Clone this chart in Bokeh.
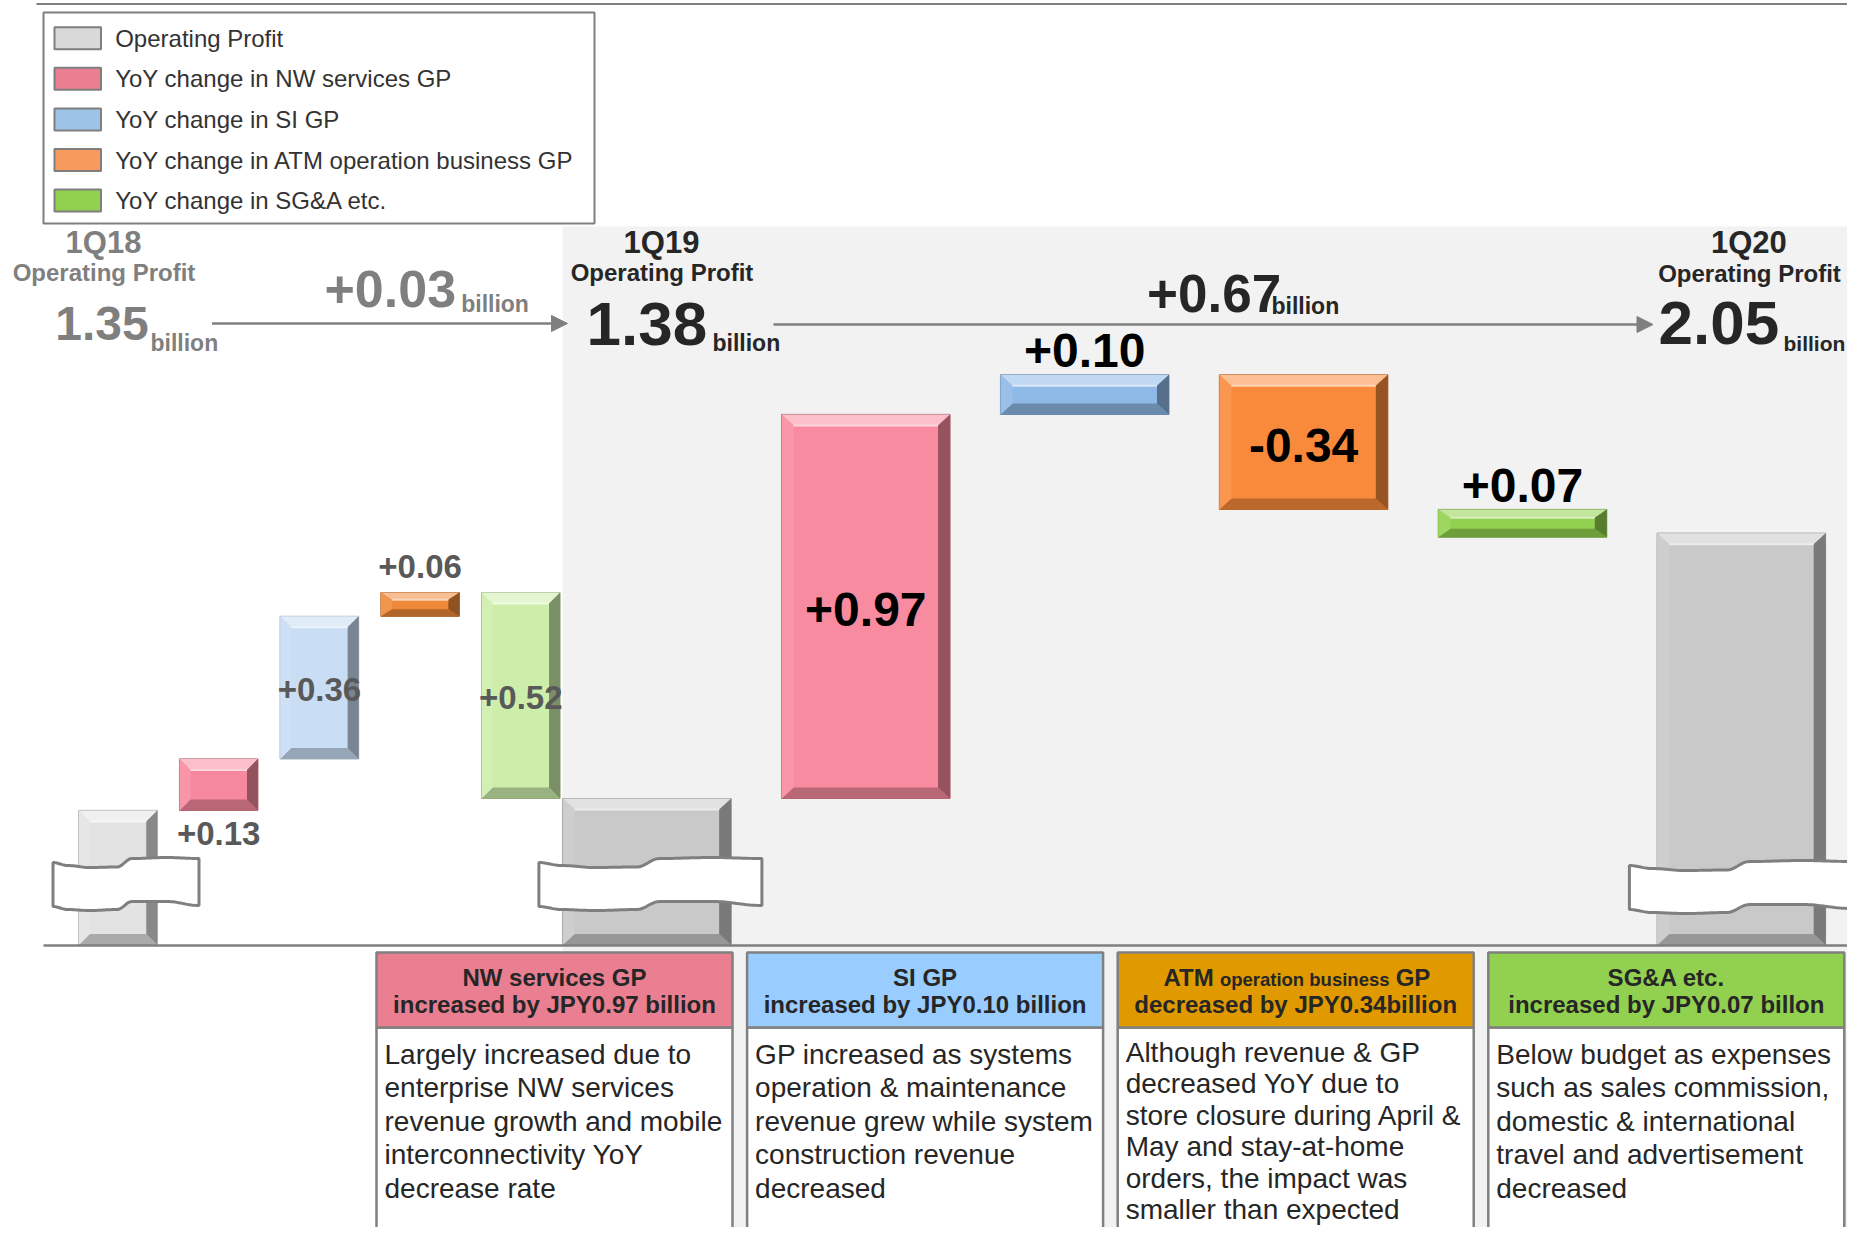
import numpy as np
from bokeh.plotting import figure
from bokeh.models import Range1d, Arrow, NormalHead
from bokeh.core.properties import value
from bokeh.embed import file_html
from bokeh.resources import INLINE

# ---------------- data ----------------
periods = ["1Q18", "1Q19", "1Q20"]
operating_profit = [1.35, 1.38, 2.05]
period_change = ["+0.03", "+0.67"]

steps_a = [0.13, 0.36, 0.06, -0.52]          # 1Q18 -> 1Q19
labels_a = ["+0.13", "+0.36", "+0.06", "+0.52"]
steps_b = [0.97, 0.10, -0.34, -0.07]         # 1Q19 -> 1Q20
labels_b = ["+0.97", "+0.10", "-0.34", "+0.07"]

legend_labels = ["Operating Profit", "YoY change in NW services GP", "YoY change in SI GP",
                 "YoY change in ATM operation business GP", "YoY change in SG&A etc."]

box_line1 = ["NW services GP", "SI GP", None, "SG&A etc."]
box_line2 = ["increased by JPY0.97 billion", "increased by JPY0.10 billion",
             "decreased by JPY0.34billion", "increased by JPY0.07 billon"]
box_body = [
    ["Largely increased due to", "enterprise NW services", "revenue growth and mobile",
     "interconnectivity YoY", "decrease rate"],
    ["GP increased as systems", "operation & maintenance", "revenue grew while system",
     "construction revenue", "decreased"],
    ["Although revenue & GP", "decreased YoY due to", "store closure during April &",
     "May and stay-at-home", "orders, the impact was", "smaller than expected"],
    ["Below budget as expenses", "such as sales commission,", "domestic & international",
     "travel and advertisement", "decreased"],
]

# ---------------- styles ----------------
FONT = "Liberation Sans"
AXIS_FLOOR = 1.01          # truncated value axis floor (broken axis)
PXB = 396.0                # pixels per billion
ANCHOR_V, ANCHOR_PX = 1.38, 798.0

left_total_color = "#e3e3e3"
left_colors = ["#f7899e", "#c9ddf4", "#ef8838", "#cdeeab"]
right_total_color = "#c9c9c9"
right_colors = ["#f88b9f", "#8fb9e7", "#fa8a3b", "#92d14f"]
legend_colors = ["#d9d9d9", "#e97f91", "#9dc3e6", "#f79a5e", "#92d050"]
header_colors = ["#e97f91", "#99ccff", "#e09a00", "#92d050"]
label_pos_a = ["below", "inside", "above", "inside"]
label_pos_b = ["inside", "above", "inside", "above"]

W, H = 1847, 1227
p = figure(width=W, height=H, x_range=Range1d(0, W), y_range=Range1d(H, 0),
           output_backend="svg", toolbar_location=None, min_border=0,
           x_axis_location=None, y_axis_location=None)
p.grid.visible = False
p.outline_line_color = None
p.background_fill_color = "white"
p.border_fill_color = "white"
v_bottom = ANCHOR_V - (H - ANCHOR_PX) / PXB
v_top = ANCHOR_V + ANCHOR_PX / PXB
p.extra_y_ranges = {"v": Range1d(v_bottom, v_top)}


def mix(c, t, target):
    c = c.lstrip("#")
    r, g, b = int(c[0:2], 16), int(c[2:4], 16), int(c[4:6], 16)
    tr = 255 if target == "w" else 0
    r, g, b = [int(round(x + (tr - x) * t)) for x in (r, g, b)]
    return "#%02x%02x%02x" % (r, g, b)


def txt(x, y, s, size, color, bold=False, align="left", baseline="alphabetic",
        yr="default", yoff=0):
    if baseline == "alphabetic":
        # place by cap-centre: more reliable across renderers
        baseline = "middle"
        yoff = yoff - 0.36 * size
    p.text(x=[x], y=[y], text=[s], text_font=value(FONT), text_font_size=f"{size}px",
           text_font_style="bold" if bold else "normal", text_color=color,
           text_align=align, text_baseline=baseline, y_range_name=yr, y_offset=yoff)


def bevel_bar(xc, w, v0, v1, color):
    x0, x1 = xc - w / 2, xc + w / 2
    hpx = (v1 - v0) * PXB
    bpx = min(11.0, 0.3 * hpx)
    bx = min(12.0, 0.14 * w)
    bv = bpx / PXB
    p.quad(left=[x0], right=[x1], bottom=[v0], top=[v1], fill_color=color,
           line_color=mix(color, 0.3, "k"), line_width=1, y_range_name="v")
    xs = [[x0, x1, x1 - bx, x0 + bx], [x0, x1, x1 - bx, x0 + bx],
          [x0, x0, x0 + bx, x0 + bx], [x1, x1, x1 - bx, x1 - bx]]
    ys = [[v1, v1, v1 - bv, v1 - bv], [v0, v0, v0 + bv, v0 + bv],
          [v0, v1, v1 - bv, v0 + bv], [v0, v1, v1 - bv, v0 + bv]]
    cols = [mix(color, 0.45, "w"), mix(color, 0.25, "k"), mix(color, 0.1, "w"),
            mix(color, 0.4, "k")]
    p.patches(xs=xs, ys=ys, fill_color=cols, line_color=None, y_range_name="v")
    p.segment(x0=[x0 + bx], x1=[x1 - bx], y0=[v1 - bv], y1=[v1 - bv],
              line_color=mix(color, 0.65, "w"), line_width=2, y_range_name="v")


def cos_interp(ts, ct, cv):
    out = []
    for t in ts:
        for k in range(len(ct) - 1):
            if ct[k] <= t <= ct[k + 1]:
                u = (t - ct[k]) / (ct[k + 1] - ct[k])
                mu = (1 - np.cos(np.pi * u)) / 2
                out.append(cv[k] * (1 - mu) + cv[k + 1] * mu)
                break
    return np.array(out)


def break_mark(x0, w, yt):
    ts = np.linspace(0, 1, 80)
    ct = [0, 0.1, 0.25, 0.44, 0.54, 0.78, 1.0]
    top = cos_interp(ts, ct, [4, 7, 9, 8.5, 0, -1, 0])
    bot = cos_interp(ts, ct, [48, 51, 52, 51, 43, 43, 47])
    xs = list(x0 + ts * w) + list((x0 + ts * w)[::-1])
    ys = list(yt + top) + list((yt + bot)[::-1])
    p.patch(xs, ys, fill_color="white", line_color="#7f7f7f", line_width=3)


# ---------------- background ----------------
p.quad(left=[562], right=[W + 20], top=[226], bottom=[H + 20], fill_color="#f2f2f2", line_color=None)
p.segment(x0=[36], x1=[W + 20], y0=[3.6], y1=[3.6], line_color="#7f7f7f", line_width=2)

# legend
p.quad(left=[43], right=[594], top=[12], bottom=[223], fill_color="white",
       line_color="#7f7f7f", line_width=2)
for i, (lab, col) in enumerate(zip(legend_labels, legend_colors)):
    cy = 37.7 + i * 40.6
    p.quad(left=[54], right=[100.5], top=[cy - 11], bottom=[cy + 11], fill_color=col,
           line_color="#7f7f7f", line_width=2)
    txt(114.7, cy, lab, 24, "#333333", baseline="middle")

# ---------------- waterfall ----------------
LX0, LSTEP, LW = 117.5, 100.7, 78.5
RX0, RSTEP, RW = 646.4, 218.9, 168.5

bevel_bar(LX0, LW, AXIS_FLOOR, operating_profit[0], left_total_color)
cur = operating_profit[0]
for i, d in enumerate(steps_a):
    xc = LX0 + (i + 1) * LSTEP
    v0, v1 = min(cur, cur + d), max(cur, cur + d)
    bevel_bar(xc, LW, v0, v1, left_colors[i])
    pos = label_pos_a[i]
    if pos == "inside":
        txt(xc, (v0 + v1) / 2, labels_a[i], 33, "#595959", True, "center", "middle", "v", 2)
    elif pos == "above":
        txt(xc, v1, labels_a[i], 33, "#595959", True, "center", "alphabetic", "v", -14)
    else:
        txt(xc, v0, labels_a[i], 33, "#595959", True, "center", "alphabetic", "v", 35)
    cur += d

bevel_bar(RX0, RW, AXIS_FLOOR, operating_profit[1], right_total_color)
cur = operating_profit[1]
for j, d in enumerate(steps_b):
    xc = RX0 + (j + 1) * RSTEP
    v0, v1 = min(cur, cur + d), max(cur, cur + d)
    bevel_bar(xc, RW, v0, v1, right_colors[j])
    pos = label_pos_b[j]
    if pos == "inside":
        txt(xc, (v0 + v1) / 2, labels_b[j], 48, "#000000", True, "center", "middle", "v", 3)
    else:
        txt(xc, v1, labels_b[j], 48, "#000000", True, "center", "alphabetic", "v", -7)
    cur += d

bevel_bar(RX0 + 5 * RSTEP, RW, AXIS_FLOOR, operating_profit[2], right_total_color)

# axis-break marks
break_mark(LX0 - 65, 146, 858)
break_mark(RX0 - 108, 223, 858)
break_mark(RX0 + 5 * RSTEP - 112, 222, 861)

# baseline
p.segment(x0=[43], x1=[W + 20], y0=[945], y1=[945], line_color="#7f7f7f", line_width=2.5)

# ---------------- period headers ----------------
gray = "#7f7f7f"
dark = "#262626"
txt(103, 253, periods[0], 31, gray, True, "center")
txt(103.5, 281, "Operating Profit", 24, gray, True, "center")
txt(54.7, 340, f"{operating_profit[0]:.2f}", 48, gray, True)
txt(150, 350.5, "billion", 23, gray, True)
txt(324, 307, period_change[0], 52, gray, True)
txt(460.7, 311.7, "billion", 23, gray, True)

txt(661, 253, periods[1], 31, dark, True, "center")
txt(661.5, 281, "Operating Profit", 24, dark, True, "center")
txt(586, 345.7, f"{operating_profit[1]:.2f}", 62, dark, True)
txt(712, 351, "billion", 23, dark, True)
txt(1146.5, 311.7, period_change[1], 53, dark, True)
txt(1271, 313.3, "billion", 23, dark, True)

txt(1748.4, 252.7, periods[2], 31, dark, True, "center")
txt(1749, 281.7, "Operating Profit", 24, dark, True, "center")
txt(1658, 345, f"{operating_profit[2]:.2f}", 62, dark, True)
txt(1783, 350.7, "billion", 21, dark, True)

head_a = NormalHead(size=16, fill_color=gray, line_color=gray)
p.add_layout(Arrow(end=head_a, x_start=211.5, y_start=323, x_end=567, y_end=323,
                   line_color=gray, line_width=2.5))
head_b = NormalHead(size=16, fill_color=gray, line_color=gray)
p.add_layout(Arrow(end=head_b, x_start=773, y_start=324, x_end=1652.5, y_end=324,
                   line_color=gray, line_width=2.5))

# ---------------- explanation boxes ----------------
BX0, BSTEP, BW = 376, 370.6, 356
for k in range(4):
    bl = BX0 + k * BSTEP
    br = bl + BW
    cx = (bl + br) / 2
    p.quad(left=[bl], right=[br], top=[1027], bottom=[H + 20], fill_color="white",
           line_color="#808080", line_width=2.5)
    p.quad(left=[bl], right=[br], top=[952], bottom=[1027], fill_color=header_colors[k],
           line_color="#808080", line_width=2.5)
    if box_line1[k] is not None:
        txt(cx, 986, box_line1[k], 24, dark, True, "center")
    else:
        mid = cx + 9
        txt(mid, 986, "operation business", 18.5, dark, True, "center")
        txt(mid - 91, 986, "ATM", 24, dark, True, "right")
        txt(mid + 91, 986, "GP", 24, dark, True, "left")
    txt(cx, 1013, box_line2[k], 24, dark, True, "center")
    nlines = len(box_body[k])
    spacing = 33.4 if nlines <= 5 else 31.4
    start = 1064 if nlines <= 5 else 1062
    for n, line in enumerate(box_body[k]):
        txt(bl + 8, start + n * spacing, line, 28, dark)

open("out.html", "w").write(file_html(p, INLINE))
